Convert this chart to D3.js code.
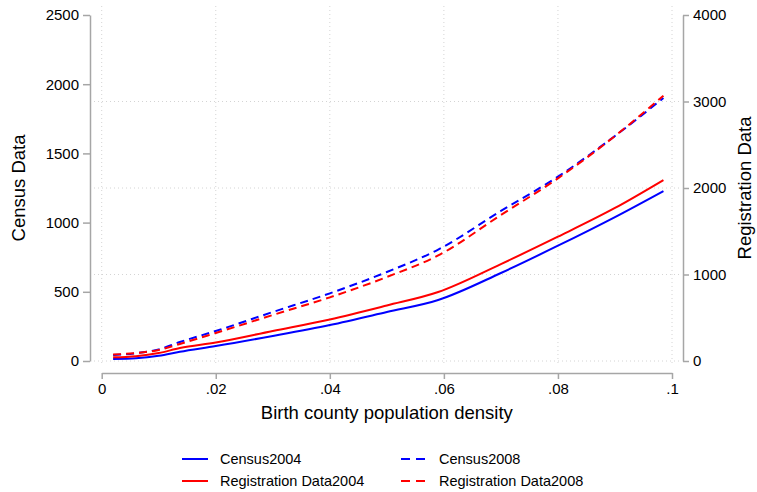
<!DOCTYPE html>
<html>
<head>
<meta charset="utf-8">
<script src="https://cdn.jsdelivr.net/npm/d3@7"></script>
<style>
  html, body { margin: 0; padding: 0; background: #fff; }
  svg { display: block; font-family: "Liberation Sans", Arial, sans-serif; }
</style>
</head>
<body>
<svg id="chart" width="757" height="492"></svg>
<script>
// ---- data ----
const density = [0.002, 0.006, 0.01, 0.0137, 0.02, 0.03, 0.04, 0.05, 0.059, 0.07, 0.08, 0.09, 0.0985];
const census2004 = [14.5, 20, 38, 67, 108, 181, 260, 354, 441, 636, 833, 1040, 1228];
const census2008 = [43, 56, 84, 137, 217, 354, 489, 643, 805, 1084, 1332, 1626, 1900];
const registration2004 = [43, 56, 92, 150, 214, 347, 480, 642, 798, 1121, 1437, 1769, 2092];
const registration2008 = [75, 92, 128, 197, 324, 532, 736, 971, 1220, 1688, 2112, 2601, 3067];
const xTicks = [0, 0.02, 0.04, 0.06, 0.08, 0.1];
const xTickLabels = ["0", ".02", ".04", ".06", ".08", ".1"];
const leftTicks = [0, 500, 1000, 1500, 2000, 2500];
const rightTicks = [0, 1000, 2000, 3000, 4000];
const gridTicks = [0, 1000, 2000, 3000];

const svg = d3.select("#chart");
const x = d3.scaleLinear().domain([0, 0.1]).range([101.7, 672]);
const yL = d3.scaleLinear().domain([0, 2500]).range([361, 15]);
const yR = d3.scaleLinear().domain([0, 4000]).range([361, 15]);

const axisColor = "#a6a6a6";
const gridColor = "#d4d4d4";

// grid
const grid = svg.append("g");
grid.selectAll("line.v").data(xTicks).enter().append("line")
  .attr("x1", d => x(d)).attr("x2", d => x(d))
  .attr("y1", 6).attr("y2", 366)
  .attr("stroke", gridColor).attr("stroke-width", 1).attr("stroke-dasharray", "1,3");
grid.selectAll("line.h").data(gridTicks).enter().append("line")
  .attr("x1", 94).attr("x2", 680)
  .attr("y1", d => yR(d)).attr("y2", d => yR(d))
  .attr("stroke", gridColor).attr("stroke-width", 1).attr("stroke-dasharray", "1,3");

function styleAxis(g) {
  g.selectAll(".domain").attr("stroke", axisColor).attr("stroke-width", 1.5);
  g.selectAll(".tick line").attr("stroke", axisColor).attr("stroke-width", 1.5);
  g.selectAll(".tick text").attr("fill", "#000").style("font-size", "15px")
    .style("font-family", '"Liberation Sans", Arial, sans-serif');
}

// left axis
const gL = svg.append("g").attr("transform", "translate(90,0)")
  .call(d3.axisLeft(yL).tickValues(leftTicks).tickSize(7).tickSizeOuter(0).tickPadding(4).tickFormat(d3.format("d")));
styleAxis(gL);

// right axis
const gR = svg.append("g").attr("transform", "translate(683,0)")
  .call(d3.axisRight(yR).tickValues(rightTicks).tickSize(6).tickSizeOuter(0).tickPadding(4).tickFormat(d3.format("d")));
styleAxis(gR);

// x axis
const gX = svg.append("g").attr("transform", "translate(0,373)")
  .call(d3.axisBottom(x).tickValues(xTicks).tickSize(6).tickSizeOuter(0).tickPadding(4)
    .tickFormat((d, i) => xTickLabels[i]));
styleAxis(gX);

// axis titles
svg.append("text").attr("transform", "translate(25,188) rotate(-90)")
  .attr("text-anchor", "middle").style("font-size", "18.5px").text("Census Data");
svg.append("text").attr("transform", "translate(755,188) rotate(-90)")
  .attr("text-anchor", "middle").attr("dy", "-0.2em").style("font-size", "18.5px").text("Registration Data");
svg.append("text").attr("x", (x(0) + x(0.1)) / 2).attr("y", 419)
  .attr("text-anchor", "middle").style("font-size", "18.5px").text("Birth county population density");

// lines
const series = [
  { name: "Census2004", values: census2004, y: yL, color: "#0000ff", dash: null },
  { name: "Registration Data2004", values: registration2004, y: yR, color: "#ff0000", dash: null },
  { name: "Census2008", values: census2008, y: yL, color: "#0000ff", dash: "8,5" },
  { name: "Registration Data2008", values: registration2008, y: yR, color: "#ff0000", dash: "8,5" }
];
const draw = [series[0], series[2], series[1], series[3]];
draw.forEach(s => {
  const line = d3.line().x((d, i) => x(density[i])).y(d => s.y(d)).curve(d3.curveMonotoneX);
  svg.append("path").datum(s.values).attr("d", line)
    .attr("fill", "none").attr("stroke", s.color).attr("stroke-width", 2)
    .attr("stroke-dasharray", s.dash);
});

// legend
const legendPos = [
  { s: series[0], lx: 182, ly: 459 },
  { s: series[1], lx: 182, ly: 481 },
  { s: series[2], lx: 401, ly: 459 },
  { s: series[3], lx: 401, ly: 481 }
];
const lg = svg.append("g");
legendPos.forEach(p => {
  lg.append("line").attr("x1", p.lx).attr("x2", p.lx + 26).attr("y1", p.ly).attr("y2", p.ly)
    .attr("stroke", p.s.color).attr("stroke-width", 2).attr("stroke-dasharray", p.s.dash ? "9,6" : null);
  lg.append("text").attr("x", p.lx + 38).attr("y", p.ly).attr("dy", "0.35em")
    .style("font-size", "14.5px").text(p.s.name);
});
</script>
</body>
</html>
